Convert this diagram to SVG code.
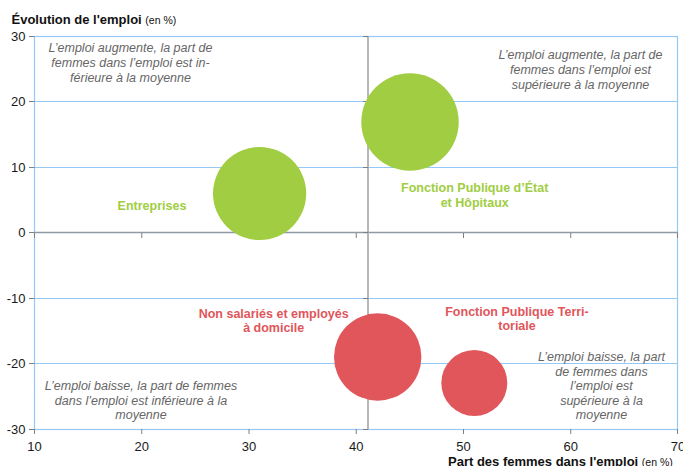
<svg xmlns="http://www.w3.org/2000/svg" width="683" height="466" viewBox="0 0 683 466">
<style>
text{font-family:"Liberation Sans",Arial,sans-serif}
.grid{stroke:#94C8F6;stroke-width:1.2;fill:none}
.tick{stroke:#7F7F7F;stroke-width:1}
.tl{font-size:13px;fill:#1a1a1a}
.note{font-size:12.5px;font-style:italic;fill:#666666;text-anchor:middle}
.cat{font-size:12.5px;font-weight:bold;text-anchor:middle}
.green{fill:#A0CD42}
.red{fill:#E0565B}
.ttl{font-size:13px;font-weight:bold;fill:#111}
.unit{font-size:10.5px;font-weight:normal}
</style>
<rect width="683" height="466" fill="#ffffff"/>
<g id="axes">
<line class="grid" x1="34.5" y1="101.5" x2="678" y2="101.5"/>
<line class="grid" x1="34.5" y1="167.5" x2="678" y2="167.5"/>
<line class="grid" x1="34.5" y1="298.5" x2="678" y2="298.5"/>
<line class="grid" x1="34.5" y1="363.5" x2="678" y2="363.5"/>
<rect class="grid" x="34.5" y="36.5" width="643" height="393"/>
<line x1="34.5" y1="232.5" x2="678" y2="232.5" stroke="#8E9AA6" stroke-width="1.6"/>
<line x1="368" y1="36" x2="368" y2="429.5" stroke="#A5A5A5" stroke-width="1.6"/>
<g class="tick">
<line x1="29" y1="36.5" x2="34.5" y2="36.5"/><line x1="29" y1="101.5" x2="34.5" y2="101.5"/><line x1="29" y1="167.5" x2="34.5" y2="167.5"/><line x1="29" y1="232.5" x2="34.5" y2="232.5"/><line x1="29" y1="298.5" x2="34.5" y2="298.5"/><line x1="29" y1="363.5" x2="34.5" y2="363.5"/><line x1="29" y1="429.5" x2="34.5" y2="429.5"/>
<line x1="363" y1="36.5" x2="368" y2="36.5"/><line x1="363" y1="101.5" x2="368" y2="101.5"/><line x1="363" y1="167.5" x2="368" y2="167.5"/><line x1="363" y1="232.5" x2="368" y2="232.5"/><line x1="363" y1="298.5" x2="368" y2="298.5"/><line x1="363" y1="363.5" x2="368" y2="363.5"/><line x1="363" y1="429.5" x2="368" y2="429.5"/>
<line x1="34.5" y1="429" x2="34.5" y2="434"/><line x1="141.75" y1="429" x2="141.75" y2="434"/><line x1="249" y1="429" x2="249" y2="434"/><line x1="356.25" y1="429" x2="356.25" y2="434"/><line x1="463.5" y1="429" x2="463.5" y2="434"/><line x1="570.75" y1="429" x2="570.75" y2="434"/><line x1="677.5" y1="429" x2="677.5" y2="434"/>
<line x1="34.5" y1="233" x2="34.5" y2="238"/><line x1="141.75" y1="233" x2="141.75" y2="238"/><line x1="249" y1="233" x2="249" y2="238"/><line x1="356.25" y1="233" x2="356.25" y2="238"/><line x1="463.5" y1="233" x2="463.5" y2="238"/><line x1="570.75" y1="233" x2="570.75" y2="238"/><line x1="677.5" y1="233" x2="677.5" y2="238"/>
</g>
<g class="tl" text-anchor="end">
<text x="25.5" y="40.5">30</text><text x="25.5" y="106">20</text><text x="25.5" y="171.5">10</text><text x="25.5" y="237">0</text><text x="25.5" y="302.5">-10</text><text x="25.5" y="368">-20</text><text x="25.5" y="433.5">-30</text>
</g>
<g class="tl" text-anchor="middle">
<text x="34.5" y="450.5">10</text><text x="141.75" y="450.5">20</text><text x="249" y="450.5">30</text><text x="356.25" y="450.5">40</text><text x="463.5" y="450.5">50</text><text x="570.75" y="450.5">60</text><text x="678" y="450.5">70</text>
</g>
<text class="ttl" x="11.5" y="23.5">Évolution de l'emploi <tspan class="unit">(en %)</tspan></text>
<text class="ttl" x="448" y="465.5">Part des femmes dans l'emploi <tspan class="unit">(en %)</tspan></text>
</g>
<g id="notes">
<text class="note" x="130.5" y="52">L’emploi augmente, la part de</text>
<text class="note" x="130.5" y="67">femmes dans l’emploi est in-</text>
<text class="note" x="130.5" y="82">férieure à la moyenne</text>
<text class="note" x="580.5" y="59">L’emploi augmente, la part de</text>
<text class="note" x="580.5" y="74">femmes dans l’emploi est</text>
<text class="note" x="580.5" y="88.5">supérieure à la moyenne</text>
<text class="note" x="141" y="390">L’emploi baisse, la part de femmes</text>
<text class="note" x="141" y="404.5">dans l’emploi est inférieure à la</text>
<text class="note" x="141" y="419">moyenne</text>
<text class="note" x="601.5" y="361">L’emploi baisse, la part</text>
<text class="note" x="601.5" y="375.5">de femmes dans</text>
<text class="note" x="601.5" y="390">l’emploi est</text>
<text class="note" x="601.5" y="404.5">supérieure à la</text>
<text class="note" x="601.5" y="419">moyenne</text>
</g>
<g id="entreprises">
<circle class="green" cx="259.6" cy="193.5" r="46.6"/>
<text class="cat green" x="152" y="210">Entreprises</text>
</g>
<g id="fonction-publique-etat">
<circle class="green" cx="410" cy="122" r="48.7"/>
<text class="cat green" x="474.7" y="192">Fonction Publique d’État</text>
<text class="cat green" x="474.7" y="207">et Hôpitaux</text>
</g>
<g id="non-salaries">
<circle class="red" cx="377.7" cy="357" r="43.7"/>
<text class="cat red" x="273.7" y="318">Non salariés et employés</text>
<text class="cat red" x="273.7" y="332">à domicile</text>
</g>
<g id="fonction-publique-territoriale">
<circle class="red" cx="474.3" cy="383" r="33"/>
<text class="cat red" x="517" y="316">Fonction Publique Terri-</text>
<text class="cat red" x="517" y="330">toriale</text>
</g>
<g id="connectors"/>
</svg>
